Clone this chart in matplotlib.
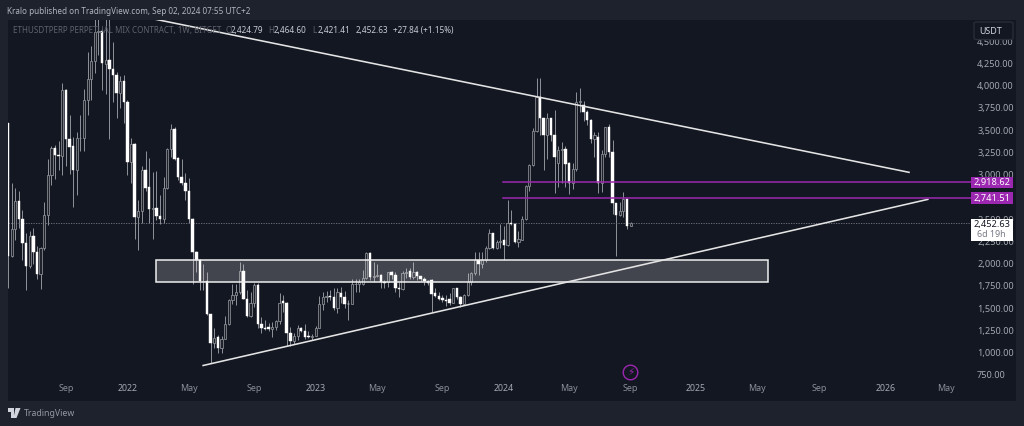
#!/usr/bin/python3

import matplotlib
matplotlib.use("Agg")
import matplotlib.pyplot as plt
import numpy as np
from matplotlib.patches import FancyBboxPatch, Polygon, Rectangle

# weekly candles
opens = [3576, 2080, 2384, 2700, 2496, 2226, 1967, 2305, 2125, 1877,
         2170, 2540, 3000, 3295, 3225, 3205, 3950, 3396, 3317, 3050,
         3410, 3410, 3835, 4070, 4275, 4600, 4610, 4240, 4285, 4185,
         4115, 3915, 4050, 3810, 3140, 3340, 2520, 2590, 3050, 2855,
         2610, 2620, 2530, 2495, 2845, 3285, 3510, 3185, 2970, 2900,
         2810, 2505, 2135, 2045, 1800, 1800, 1430, 1110, 1175, 1055,
         1155, 1325, 1585, 1650, 1675, 1920, 1605, 1405, 1560, 1755,
         1325, 1280, 1290, 1260, 1290, 1350, 1575, 1560, 1215, 1125,
         1180, 1270, 1245, 1190, 1170, 1190, 1280, 1540, 1620, 1640,
         1620, 1495, 1665, 1620, 1550, 1550, 1765, 1770, 1770, 1835,
         2115, 1845, 1865, 1870, 1790, 1790, 1900, 1875, 1730, 1710,
         1890, 1920, 1845, 1900, 1855, 1830, 1800, 1810, 1665, 1630,
         1615, 1590, 1600, 1555, 1720, 1620, 1550, 1650, 1790, 1890,
         2035, 2000, 2035, 2180, 2340, 2180, 2245, 2270, 2205, 2450,
         2440, 2240, 2265, 2495, 2870, 3105, 3485, 3870, 3630, 3440,
         3630, 3440, 3130, 3280, 3285, 3130, 2910, 3060, 3810, 3780,
         3700, 3610, 3405, 3420, 2910, 3235, 3530, 3250, 2675, 2540,
         2590, 2730, 2424.79]
highs = [3576, 2900, 2845, 2820, 2600, 2340, 2370, 2395, 2200, 2190,
         2690, 3180, 3320, 3330, 3375, 4025, 3960, 3666, 3420, 3475,
         3666, 3960, 4375, 4450, 4780, 4780, 4640, 4870, 4780, 4490,
         4150, 4105, 4115, 3840, 3410, 3360, 2710, 3100, 3270, 3190,
         3025, 3035, 2765, 2970, 3295, 3565, 3540, 3200, 3180, 3015,
         2960, 2510, 2140, 2050, 2000, 1900, 1435, 1270, 1200, 1180,
         1415, 1600, 1775, 1775, 2020, 2000, 1700, 1675, 1780, 1780,
         1395, 1370, 1330, 1340, 1360, 1665, 1650, 1570, 1290, 1220,
         1305, 1290, 1320, 1240, 1210, 1295, 1640, 1680, 1690, 1700,
         1730, 1730, 1740, 1690, 1590, 1830, 1830, 1830, 1930, 2135,
         2125, 2020, 1990, 1885, 1810, 1910, 1920, 1900, 1790, 1920,
         1955, 1955, 2015, 1920, 1865, 1850, 1810, 1825, 1730, 1680,
         1650, 1650, 1665, 1730, 1730, 1630, 1660, 1890, 1900, 2125,
         2130, 2130, 2200, 2390, 2345, 2260, 2440, 2420, 2710, 2600,
         2450, 2360, 2530, 2880, 3120, 3520, 4080, 4080, 3640, 3690,
         3640, 3720, 3320, 3370, 3320, 3140, 3130, 3925, 3970, 3830,
         3730, 3620, 3475, 3475, 3275, 3530, 3565, 3385, 2680, 2690,
         2800, 2740, 2464.60]
lows = [1720, 2070, 2260, 2395, 2035, 1700, 1955, 2000, 1830, 1710,
        2150, 2430, 2880, 2950, 3050, 3000, 3100, 3010, 2630, 2770,
        3260, 3270, 3666, 3835, 4140, 4340, 3950, 3900, 3396, 3810,
        3640, 3745, 3575, 2990, 2910, 2280, 2150, 2460, 2820, 2460,
        2280, 2485, 2440, 2460, 2835, 3195, 3160, 2935, 2880, 2710,
        2460, 1775, 1900, 1700, 1700, 1425, 880, 1055, 990, 1000,
        1150, 1310, 1540, 1530, 1660, 1600, 1400, 1395, 1510, 1270,
        1215, 1250, 1240, 1170, 1250, 1320, 1450, 1070, 1070, 1095,
        1135, 1225, 1150, 1160, 1145, 1180, 1270, 1480, 1570, 1590,
        1480, 1440, 1560, 1505, 1360, 1540, 1680, 1680, 1760, 1830,
        1810, 1790, 1850, 1730, 1720, 1740, 1830, 1680, 1620, 1700,
        1840, 1830, 1830, 1820, 1800, 1760, 1760, 1460, 1620, 1590,
        1570, 1520, 1530, 1555, 1600, 1510, 1530, 1640, 1760, 1870,
        1870, 1950, 2020, 2160, 2160, 2160, 2170, 2045, 2200, 2430,
        2235, 2190, 2265, 2490, 2820, 3100, 3480, 3440, 3050, 3180,
        3380, 2790, 2860, 2910, 2860, 2780, 2840, 3040, 3700, 3600,
        3560, 3350, 3195, 2790, 2800, 3200, 3200, 2560, 2080, 2530,
        2520, 2390, 2421.41]
closes = [2080, 2384, 2700, 2496, 2226, 1967, 2305, 2125, 1877, 2170,
          2540, 3000, 3295, 3225, 3205, 3950, 3396, 3306, 3050, 3410,
          3415, 3835, 4070, 4275, 4600, 4610, 4250, 4285, 4185, 4115,
          3915, 4050, 3810, 3140, 3340, 2520, 2590, 3050, 2845, 2610,
          2620, 2530, 2495, 2845, 3285, 3510, 3180, 2970, 2900, 2810,
          2505, 2125, 2035, 1800, 1805, 1430, 1110, 1165, 1055, 1155,
          1325, 1585, 1650, 1675, 1920, 1605, 1405, 1560, 1755, 1325,
          1270, 1260, 1260, 1290, 1350, 1560, 1560, 1215, 1125, 1180,
          1270, 1240, 1170, 1170, 1190, 1280, 1540, 1620, 1640, 1620,
          1495, 1680, 1620, 1550, 1540, 1765, 1770, 1790, 1840, 2115,
          1845, 1865, 1870, 1790, 1780, 1900, 1875, 1730, 1710, 1890,
          1910, 1845, 1900, 1855, 1830, 1800, 1785, 1660, 1630, 1600,
          1590, 1580, 1555, 1720, 1620, 1540, 1650, 1790, 1890, 2035,
          2000, 2035, 2180, 2340, 2180, 2245, 2255, 2205, 2450, 2440,
          2240, 2280, 2495, 2870, 3105, 3485, 3870, 3630, 3440, 3630,
          3440, 3195, 3280, 3285, 3115, 2910, 3060, 3810, 3830, 3700,
          3610, 3405, 3440, 2910, 3235, 3530, 3250, 2675, 2540, 2590,
          2730, 2424, 2452.63]

week_ticks = [16, 33, 50, 68, 85, 102, 120, 137, 155, 172, 190, 207, 224, 242.4, 259]
week_labels = ['Sep', '2022', 'May', 'Sep', '2023', 'May', 'Sep', '2024', 'May', 'Sep',
               '2025', 'May', 'Sep', '2026', 'May']
# 2,750 sits fully behind the purple tag in the reference, so it is left out
price_ticks = [750, 1000, 1250, 1500, 1750, 2000, 2250, 2500, 3000, 3250, 3500, 3750, 4000, 4250, 4500]

resistance_weeks = [40.6, 248.9]
resistance_prices = [4746, 3025]
support_weeks = [53.9, 254.1]
support_prices = [854, 2721]
zone_weeks = [40.9, 209.9]
zone_prices = [1793, 2040]
level_start_week = 136.7
levels = [2918.62, 2741.51]
last_price = 2452.63

BG = '#1e222d'
PANE = '#131722'
PURPLE = '#9c27b0'
FONT = 'Noto Sans'


def fx(x):
    return x / 1024


def fy(y):
    return 1 - y / 426


plt.rcParams['font.family'] = [FONT, 'DejaVu Sans']

fig = plt.figure(figsize=(10.24, 4.26), dpi=100, facecolor=BG)
ax = fig.add_axes([fx(8), fy(401), fx(1016 - 8), (401 - 20) / 426], facecolor=PANE)
for s in ax.spines.values():
    s.set_visible(False)

ax.set_xlim(0, (1016 - 8) / 3.62)
ax.set_ylim(455, 4737)

weeks = np.arange(len(opens))
o = np.array(opens)
h = np.array(highs)
l = np.array(lows)
c = np.array(closes)
up = c >= o

ax.vlines(weeks, l, h, color='#8f9298', lw=0.7, zorder=2)
ax.bar(weeks[up], (c - o)[up], bottom=o[up], width=0.6, facecolor='#1f222b', edgecolor='#8f9298', lw=0.55, zorder=3)
ax.bar(weeks[~up], (c - o)[~up], bottom=o[~up], width=0.7, facecolor='white', edgecolor='white', lw=0.3, zorder=3)

ax.add_patch(Rectangle((zone_weeks[0], zone_prices[0]), zone_weeks[1] - zone_weeks[0], zone_prices[1] - zone_prices[0],
                       facecolor='#ffffff', alpha=0.2, lw=0, zorder=4))
ax.add_patch(Rectangle((zone_weeks[0], zone_prices[0]), zone_weeks[1] - zone_weeks[0], zone_prices[1] - zone_prices[0],
                       fill=False, edgecolor='#eeeeee', lw=1.1, zorder=5))

ax.plot(resistance_weeks, resistance_prices, color='#e4e4e4', lw=1.15, zorder=5)
ax.plot(support_weeks, support_prices, color='#e4e4e4', lw=1.15, zorder=5)

right_week = (971 - 8) / 3.62
for lv in levels:
    ax.plot([level_start_week, right_week], [lv, lv], color=PURPLE, lw=1.1, zorder=5)
ax.plot([0, right_week], [last_price, last_price], color='#787b86', lw=0.6, ls=(0, (1.5, 1.5)), zorder=2)

ax.set_xticks(week_ticks)
ax.set_xticklabels(week_labels)
ax.tick_params(axis='x', length=0, pad=-12.5, labelsize=6.4, labelcolor='#8b8e97')
for t, s in zip(ax.get_xticklabels(), week_labels):
    if s[0] == '2':
        t.set_fontweight('bold')
        t.set_color('#a5a8b0')

ax.yaxis.tick_right()
ax.set_yticks(price_ticks)
ax.set_yticklabels(['{:,.2f}'.format(p) for p in price_ticks])
ax.tick_params(axis='y', length=0, pad=-28, labelsize=6.6, labelcolor='#a5a8b0')
for t in ax.get_yticklabels():
    t.set_zorder(1)

# price tags on the scale
for lv, y in zip(levels, [182.5, 198]):
    fig.patches.append(Rectangle((fx(971), fy(y + 5.7)), fx(42), 11.4 / 426, transform=fig.transFigure, facecolor=PURPLE, lw=0, zorder=10))
    fig.text(fx(1011), fy(y), '{:,.2f}'.format(lv), color='white', fontsize=6.6, fontweight='medium', ha='right', va='center', zorder=11)

fig.patches.append(Rectangle((fx(971), fy(240.5)), fx(42), 22 / 426, transform=fig.transFigure, facecolor='white', lw=0, zorder=10))
fig.text(fx(1010), fy(224), '{:,.2f}'.format(last_price), color='#131722', fontsize=6.6, ha='right', va='center', zorder=11)
fig.text(fx(977), fy(234), '6d 19h', color='#787b86', fontsize=6.4, ha='left', va='center', zorder=11)

# currency button
fig.patches.append(FancyBboxPatch((fx(974), fy(39.5)), fx(39), 17.5 / 426, boxstyle='round,pad=0,rounding_size=0.003',
                                  transform=fig.transFigure, facecolor=PANE, edgecolor='#2a2e39', lw=0.9, zorder=10))
fig.text(fx(979), fy(31), 'USDT', color='#d1d4dc', fontsize=6.4, ha='left', va='center', zorder=11)

# header lines
fig.text(fx(7), fy(11), 'Kralo published on TradingView.com, Sep 02, 2024 07:55 UTC+2', color='#b2b5be', fontsize=5.85, va='center')
fig.text(fx(13), fy(30.5), 'ETHUSDTPERP PERPETUAL MIX CONTRACT, 1W, BITGET', color='#5f626c', fontsize=5.8, va='center', zorder=8)
for x, letter, value in [(225, 'O', '2,424.79'), (268, 'H', '2,464.60'), (312, 'L', '2,421.41')]:
    fig.text(fx(x), fy(30.5), letter, color='#5f626c', fontsize=5.8, va='center', zorder=8)
    fig.text(fx(x + 5.5), fy(30.5), value, color='#c8cbd3', fontsize=5.9, va='center', zorder=8)
fig.text(fx(356), fy(30.5), '2,452.63', color='#c8cbd3', fontsize=5.9, va='center', zorder=8)
fig.text(fx(393), fy(30.5), '+27.84 (+1.15%)', color='#c8cbd3', fontsize=5.9, va='center', zorder=8)

# lightning marker
fig.add_artist(plt.Line2D([fx(630.3)], [fy(372)], marker='o', ms=10.5, mfc=PANE, mec=PURPLE, mew=1.0, transform=fig.transFigure))
fig.text(fx(630.3), fy(372), '\u26a1', color=PURPLE, fontsize=7.5, ha='center', va='center', family='DejaVu Sans', zorder=8)

# footer logo
fig.patches.append(Polygon([(fx(8), fy(408)), (fx(14), fy(408)), (fx(14), fy(418)), (fx(11), fy(418)), (fx(11), fy(412)), (fx(8), fy(412))],
                           closed=True, transform=fig.transFigure, facecolor='#d1d4dc', lw=0))
fig.patches.append(Polygon([(fx(15.5), fy(408)), (fx(20.5), fy(408)), (fx(16.5), fy(418)), (fx(13.5), fy(418))],
                           closed=True, transform=fig.transFigure, facecolor='#d1d4dc', lw=0))
fig.text(fx(24), fy(413.5), 'TradingView', color='#9598a1', fontsize=6.3, va='center')

plt.savefig('out.png', dpi=100, facecolor=BG)
